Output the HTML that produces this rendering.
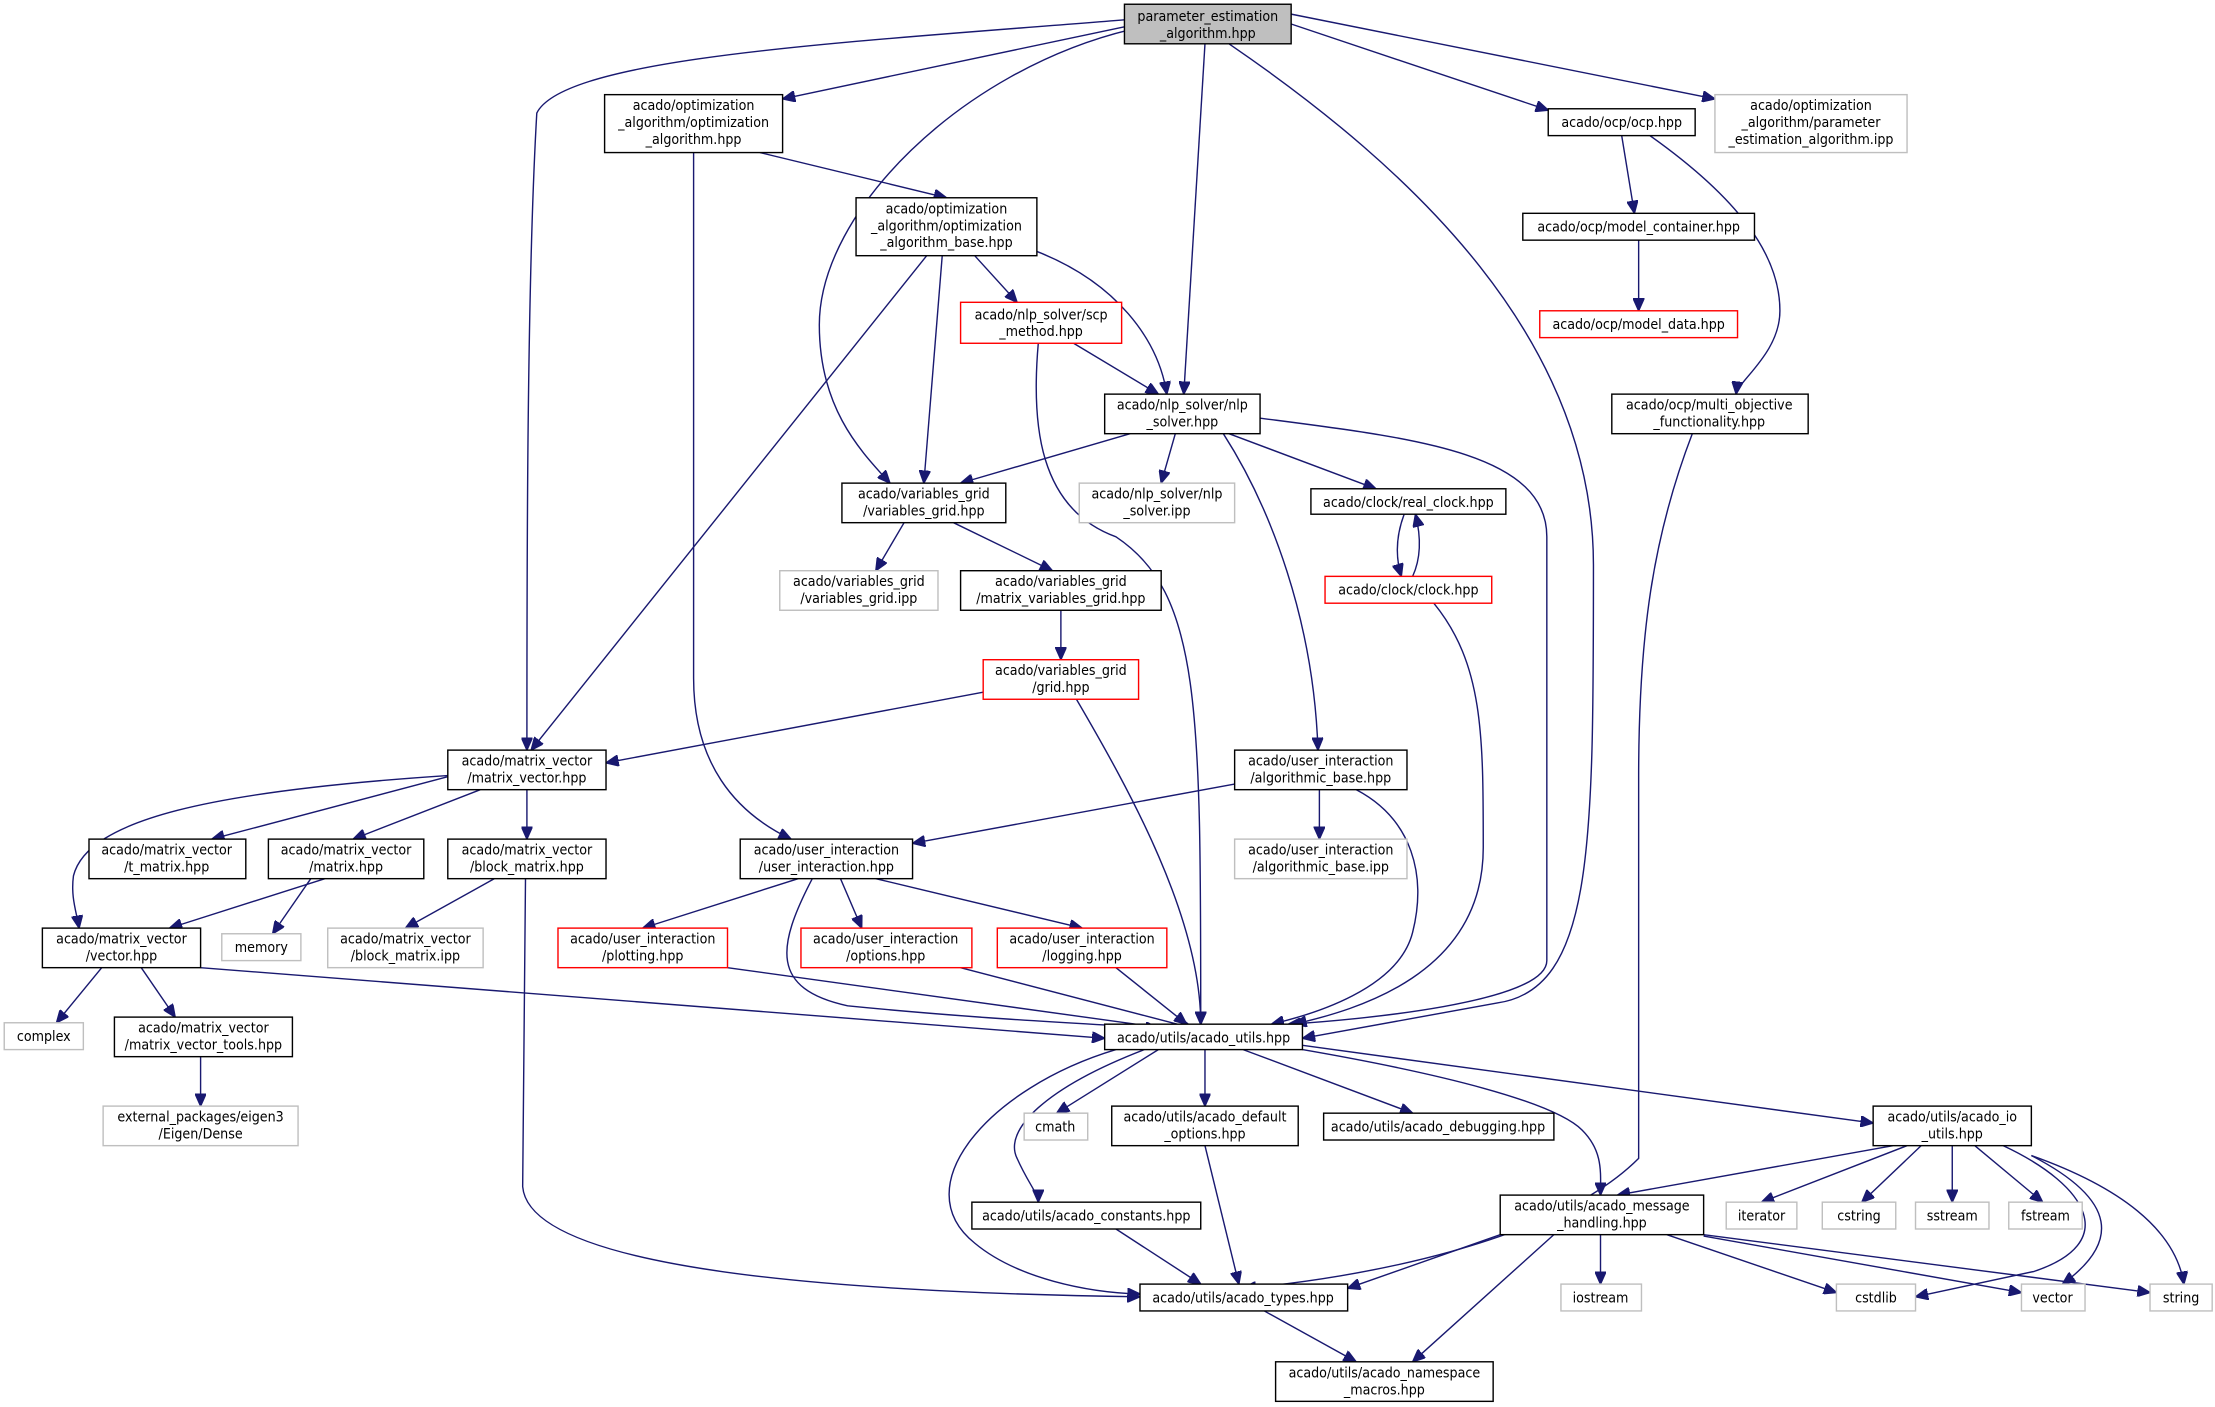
<!DOCTYPE html>
<html><head><meta charset="utf-8"><style>
html,body{margin:0;padding:0;background:#fff;}
svg{display:block;}
text{font-family:"DejaVu Sans Condensed","DejaVu Sans","Liberation Sans",sans-serif;font-size:10px;fill:#000;text-anchor:middle;}
.n{fill:#fff;stroke:#000;stroke-width:1;}
.g{fill:#fff;stroke:#bfbfbf;stroke-width:1;}
.r{fill:#fff;stroke:#ff0000;stroke-width:1;}
.root{fill:#bfbfbf;stroke:#000;stroke-width:1;}
path{fill:none;stroke:#191970;stroke-width:1;}
</style></head><body>
<svg width="2215" height="1407" viewBox="0 0 1568 996" preserveAspectRatio="none" xmlns="http://www.w3.org/2000/svg">
<defs><marker id="a" markerUnits="userSpaceOnUse" markerWidth="10" markerHeight="8" refX="9" refY="4" orient="auto"><path d="M0,0 L9,4 L0,8 Z" style="fill:#191970;stroke:#191970"/></marker></defs>
<g marker-end="url(#a)">
<path d="M796,19 L554,70"/>
<path d="M914,17 L1096,78"/>
<path d="M914,10 L1214,70"/>
<path d="M796,14 C600,30 400,40 380,80 C373,200 373,400 373,531"/>
<path d="M800,21 C680,50 580,150 580,230 C580,290 610,320 630,342"/>
<path d="M853,31 L838,279"/>
<path d="M870,31 C1000,120 1128,240 1128,400 C1128,600 1128,700 1060,710 L922,735"/>
<path d="M538,108 L670,140"/>
<path d="M491,108 L491,480 C491,540 520,575 560,594"/>
<path d="M690,181 L720,214"/>
<path d="M734,178 C790,200 820,240 826,279"/>
<path d="M667,181 L654,342"/>
<path d="M656,181 L376,531"/>
<path d="M1148,96 L1157,151"/>
<path d="M1168,96 C1230,140 1260,180 1260,220 C1260,250 1230,270 1229,279"/>
<path d="M1160,170 L1160,220"/>
<path d="M760,243 L820,279"/>
<path d="M735,243 C730,300 735,360 790,380 C850,420 850,500 850,725"/>
<path d="M800,307 L680,342"/>
<path d="M832,307 L822,342"/>
<path d="M870,307 L974,346"/>
<path d="M866,307 C900,360 930,440 933,531"/>
<path d="M892,296 C1000,310 1095,320 1095,380 L1095,680 C1095,710 960,722 912,725"/>
<path d="M1198,307 C1170,380 1160,450 1160,550 L1160,820 C1100,880 960,905 880,912"/>
<path d="M994,364 C988,380 988,395 992,408"/>
<path d="M1000,408 C1006,395 1006,380 1002,364"/>
<path d="M1015,427 C1050,470 1050,520 1050,600 C1050,690 960,715 916,725"/>
<path d="M640,370 L620,404"/>
<path d="M675,370 L745,404"/>
<path d="M751,432 L751,467"/>
<path d="M696,490 L429,540"/>
<path d="M762,495 C800,560 850,650 850,725"/>
<path d="M320,549 L150,594"/>
<path d="M340,559 L250,594"/>
<path d="M373,559 L373,594"/>
<path d="M317,549 C150,560 62,580 52,620 C50,635 54,645 56,657"/>
<path d="M874,555 L646,597"/>
<path d="M934,559 L934,594"/>
<path d="M960,559 C1000,580 1010,620 1000,660 C990,700 930,718 900,725"/>
<path d="M230,622 L120,657"/>
<path d="M220,622 L193,661"/>
<path d="M350,622 L287,657"/>
<path d="M372,622 L370,840 C375,900 600,915 807,918"/>
<path d="M565,622 L455,657"/>
<path d="M595,622 L610,657"/>
<path d="M620,622 L766,657"/>
<path d="M575,622 C550,670 545,700 600,712 C700,722 780,725 820,728"/>
<path d="M515,685 L840,730"/>
<path d="M680,685 L845,728"/>
<path d="M790,685 L840,725"/>
<path d="M72,685 L40,724"/>
<path d="M100,685 L124,720"/>
<path d="M142,685 L782,735"/>
<path d="M142,748 L142,783"/>
<path d="M820,743 L748,788"/>
<path d="M853,743 L853,783"/>
<path d="M880,743 L1000,788"/>
<path d="M922,740 L1326,795"/>
<path d="M810,743 C740,770 710,800 720,820 C728,838 735,845 735,851"/>
<path d="M790,743 C700,770 640,840 690,880 C720,905 770,915 807,916"/>
<path d="M922,743 C1020,760 1100,780 1120,800 C1135,815 1133,830 1133,846"/>
<path d="M853,811 L877,909"/>
<path d="M790,870 L850,909"/>
<path d="M1340,811 L1145,846"/>
<path d="M1350,811 L1247,851"/>
<path d="M1360,811 L1318,851"/>
<path d="M1382,811 L1382,851"/>
<path d="M1398,811 L1446,851"/>
<path d="M1418,811 C1480,840 1500,880 1440,900 L1356,918"/>
<path d="M1438,818 C1500,850 1500,880 1460,909"/>
<path d="M1438,818 C1500,840 1540,870 1546,909"/>
<path d="M1062,874 L954,912"/>
<path d="M1133,874 L1133,909"/>
<path d="M1100,874 L1000,964"/>
<path d="M1180,874 L1300,915"/>
<path d="M1206,875 L1431,915"/>
<path d="M1206,874 L1522,915"/>
<path d="M895,928 L960,964"/>
</g>
<rect class="root" x="796" y="3" width="118" height="28"/><text x="855" y="15">parameter_estimation</text><text x="855" y="27">_algorithm.hpp</text>
<rect class="n" x="428" y="67" width="126" height="41"/><text x="491" y="78">acado/optimization</text><text x="491" y="90">_algorithm/optimization</text><text x="491" y="102">_algorithm.hpp</text>
<rect class="n" x="1096" y="77" width="104" height="19"/><text x="1148" y="90">acado/ocp/ocp.hpp</text>
<rect class="g" x="1214" y="67" width="136" height="41"/><text x="1282" y="78">acado/optimization</text><text x="1282" y="90">_algorithm/parameter</text><text x="1282" y="102">_estimation_algorithm.ipp</text>
<rect class="n" x="606" y="140" width="128" height="41"/><text x="670" y="151">acado/optimization</text><text x="670" y="163">_algorithm/optimization</text><text x="670" y="175">_algorithm_base.hpp</text>
<rect class="n" x="1078" y="151" width="164" height="19"/><text x="1160" y="164">acado/ocp/model_container.hpp</text>
<rect class="r" x="680" y="214" width="114" height="29"/><text x="737" y="226">acado/nlp_solver/scp</text><text x="737" y="238">_method.hpp</text>
<rect class="r" x="1090" y="220" width="140" height="19"/><text x="1160" y="233">acado/ocp/model_data.hpp</text>
<rect class="n" x="782" y="279" width="110" height="28"/><text x="837" y="290">acado/nlp_solver/nlp</text><text x="837" y="302">_solver.hpp</text>
<rect class="n" x="1141" y="279" width="139" height="28"/><text x="1210" y="290">acado/ocp/multi_objective</text><text x="1210" y="302">_functionality.hpp</text>
<rect class="n" x="596" y="342" width="116" height="28"/><text x="654" y="353">acado/variables_grid</text><text x="654" y="365">/variables_grid.hpp</text>
<rect class="g" x="764" y="342" width="110" height="28"/><text x="819" y="353">acado/nlp_solver/nlp</text><text x="819" y="365">_solver.ipp</text>
<rect class="n" x="928" y="346" width="138" height="18"/><text x="997" y="359">acado/clock/real_clock.hpp</text>
<rect class="g" x="552" y="404" width="112" height="28"/><text x="608" y="415">acado/variables_grid</text><text x="608" y="427">/variables_grid.ipp</text>
<rect class="n" x="680" y="404" width="142" height="28"/><text x="751" y="415">acado/variables_grid</text><text x="751" y="427">/matrix_variables_grid.hpp</text>
<rect class="r" x="938" y="408" width="118" height="19"/><text x="997" y="421">acado/clock/clock.hpp</text>
<rect class="r" x="696" y="467" width="110" height="28"/><text x="751" y="478">acado/variables_grid</text><text x="751" y="490">/grid.hpp</text>
<rect class="n" x="317" y="531" width="112" height="28"/><text x="373" y="542">acado/matrix_vector</text><text x="373" y="554">/matrix_vector.hpp</text>
<rect class="n" x="874" y="531" width="122" height="28"/><text x="935" y="542">acado/user_interaction</text><text x="935" y="554">/algorithmic_base.hpp</text>
<rect class="n" x="63" y="594" width="111" height="28"/><text x="118" y="605">acado/matrix_vector</text><text x="118" y="617">/t_matrix.hpp</text>
<rect class="n" x="190" y="594" width="110" height="28"/><text x="245" y="605">acado/matrix_vector</text><text x="245" y="617">/matrix.hpp</text>
<rect class="n" x="317" y="594" width="112" height="28"/><text x="373" y="605">acado/matrix_vector</text><text x="373" y="617">/block_matrix.hpp</text>
<rect class="n" x="524" y="594" width="122" height="28"/><text x="585" y="605">acado/user_interaction</text><text x="585" y="617">/user_interaction.hpp</text>
<rect class="g" x="874" y="594" width="122" height="28"/><text x="935" y="605">acado/user_interaction</text><text x="935" y="617">/algorithmic_base.ipp</text>
<rect class="g" x="157" y="661" width="56" height="19"/><text x="185" y="674">memory</text>
<rect class="g" x="232" y="657" width="110" height="28"/><text x="287" y="668">acado/matrix_vector</text><text x="287" y="680">/block_matrix.ipp</text>
<rect class="n" x="30" y="657" width="112" height="28"/><text x="86" y="668">acado/matrix_vector</text><text x="86" y="680">/vector.hpp</text>
<rect class="r" x="395" y="657" width="120" height="28"/><text x="455" y="668">acado/user_interaction</text><text x="455" y="680">/plotting.hpp</text>
<rect class="r" x="567" y="657" width="121" height="28"/><text x="627" y="668">acado/user_interaction</text><text x="627" y="680">/options.hpp</text>
<rect class="r" x="706" y="657" width="120" height="28"/><text x="766" y="668">acado/user_interaction</text><text x="766" y="680">/logging.hpp</text>
<rect class="g" x="3" y="724" width="56" height="19"/><text x="31" y="737">complex</text>
<rect class="n" x="81" y="720" width="126" height="28"/><text x="144" y="731">acado/matrix_vector</text><text x="144" y="743">/matrix_vector_tools.hpp</text>
<rect class="n" x="782" y="725" width="140" height="18"/><text x="852" y="738">acado/utils/acado_utils.hpp</text>
<rect class="g" x="73" y="783" width="138" height="28"/><text x="142" y="794">external_packages/eigen3</text><text x="142" y="806">/Eigen/Dense</text>
<rect class="g" x="725" y="788" width="45" height="19"/><text x="747" y="801">cmath</text>
<rect class="n" x="787" y="783" width="132" height="28"/><text x="853" y="794">acado/utils/acado_default</text><text x="853" y="806">_options.hpp</text>
<rect class="n" x="937" y="788" width="163" height="19"/><text x="1018" y="801">acado/utils/acado_debugging.hpp</text>
<rect class="n" x="1326" y="783" width="112" height="28"/><text x="1382" y="794">acado/utils/acado_io</text><text x="1382" y="806">_utils.hpp</text>
<rect class="n" x="688" y="851" width="162" height="19"/><text x="769" y="864">acado/utils/acado_constants.hpp</text>
<rect class="n" x="1062" y="846" width="144" height="28"/><text x="1134" y="857">acado/utils/acado_message</text><text x="1134" y="869">_handling.hpp</text>
<rect class="g" x="1222" y="851" width="50" height="19"/><text x="1247" y="864">iterator</text>
<rect class="g" x="1290" y="851" width="52" height="19"/><text x="1316" y="864">cstring</text>
<rect class="g" x="1356" y="851" width="52" height="19"/><text x="1382" y="864">sstream</text>
<rect class="g" x="1422" y="851" width="52" height="19"/><text x="1448" y="864">fstream</text>
<rect class="n" x="807" y="909" width="147" height="19"/><text x="880" y="922">acado/utils/acado_types.hpp</text>
<rect class="g" x="1105" y="909" width="57" height="19"/><text x="1133" y="922">iostream</text>
<rect class="g" x="1300" y="909" width="56" height="19"/><text x="1328" y="922">cstdlib</text>
<rect class="g" x="1431" y="909" width="45" height="19"/><text x="1453" y="922">vector</text>
<rect class="g" x="1522" y="909" width="44" height="19"/><text x="1544" y="922">string</text>
<rect class="n" x="903" y="964" width="154" height="28"/><text x="980" y="975">acado/utils/acado_namespace</text><text x="980" y="987">_macros.hpp</text>
</svg>
</body></html>
